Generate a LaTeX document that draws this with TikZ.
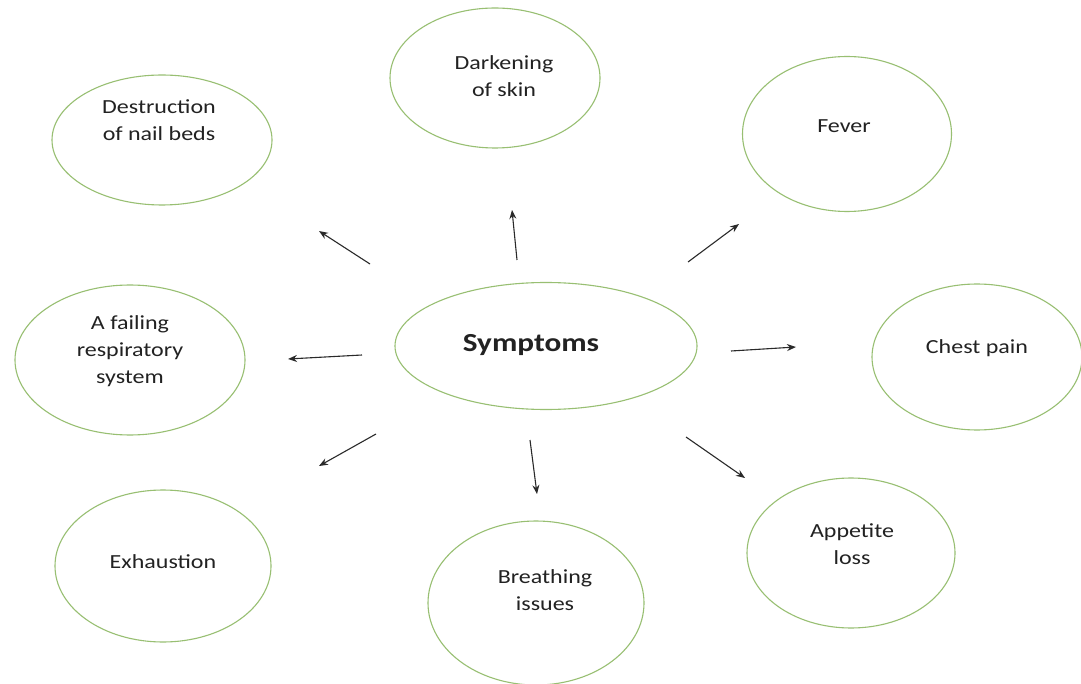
\documentclass[tikz,border=0pt]{standalone}
\usepackage{fontspec}
\setmainfont{Carlito}[FakeStretch=1.2]
\usepackage{xcolor}
\usepackage{tikz}
\usetikzlibrary{shapes.geometric,arrows.meta}
\definecolor{ring}{HTML}{98BF72}
\definecolor{ink}{HTML}{222222}
\definecolor{arrowc}{HTML}{2A2A2A}
\tikzset{
  bubble/.style={draw=ring, line width=1.1pt, ellipse, inner sep=0pt},
  lab/.style={text=ink, font=\fontsize{20}{27}\selectfont, align=center},
  labb/.style={text=ink, font=\fontsize{26}{30}\selectfont\bfseries},
  arr/.style={draw=arrowc, line width=1.1pt, -{Stealth[length=9pt,width=7pt]}}
}

\begin{document}
\begin{tikzpicture}[x=1pt,y=-1pt]
  \useasboundingbox[fill=white] (0,0) rectangle (1081,684);
  % bubbles
  \node[bubble, minimum width=220, minimum height=130] (nail) at (162,140) {};
  \node[bubble, minimum width=210, minimum height=140] (skin) at (495,78) {};
  \node[bubble, minimum width=209, minimum height=155] (fever) at (847,134) {};
  \node[bubble, minimum width=230, minimum height=150] (resp) at (130,360) {};
  \node[bubble, minimum width=302, minimum height=127] (sym) at (546,346) {};
  \node[bubble, minimum width=210, minimum height=146] (chest) at (977,357) {};
  \node[bubble, minimum width=216, minimum height=152] (exh) at (163,566) {};
  \node[bubble, minimum width=216, minimum height=164] (breath) at (536,603) {};
  \node[bubble, minimum width=208, minimum height=150] (app) at (851,553) {};
  % texts
  \node[lab] (nailtxt) at (159,120) {Destruction\\of nail beds};
  \node[lab] (skintxt) at (504,76) {Darkening\\of skin};
  \node[lab] (fevertxt) at (844,126) {Fever};
  \node[lab] (resptxt) at (130,351) {A failing\\respiratory\\system};
  \node[labb] (symtxt) at (531,345) {Symptoms};
  \node[lab] (chesttxt) at (977,348) {Chest pain};
  \node[lab] (exhtxt) at (163,562) {Exhaustion};
  \node[lab] (breathtxt) at (545,590) {Breathing\\issues};
  \node[lab] (apptxt) at (852,544) {Appetite\\loss};
  % arrow ends
  \coordinate (a1) at (370,264); \coordinate (b1) at (319,231);
  \coordinate (a2) at (517,260); \coordinate (b2) at (512,210);
  \coordinate (a3) at (688,262); \coordinate (b3) at (739,224);
  \coordinate (a4) at (362,355); \coordinate (b4) at (288,359);
  \coordinate (a5) at (731,351); \coordinate (b5) at (796,347);
  \coordinate (a6) at (376,434); \coordinate (b6) at (319,466);
  \coordinate (a7) at (530,440); \coordinate (b7) at (537,494);
  \coordinate (a8) at (686,437); \coordinate (b8) at (745,478);
  \foreach \i in {1,...,8}
    \draw[arr] (a\i) -- (b\i);
\end{tikzpicture}
\end{document}
